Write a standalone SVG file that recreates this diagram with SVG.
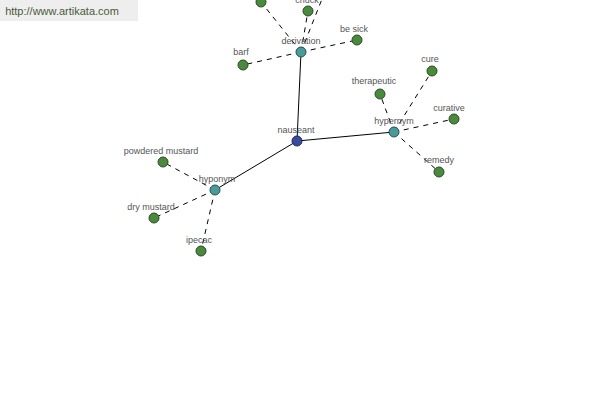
<svg xmlns="http://www.w3.org/2000/svg" width="600" height="400" viewBox="0 0 600 400">
<style>
.solid{stroke:#000;stroke-width:1;fill:none}
.dash{stroke:#000;stroke-width:1;fill:none;stroke-dasharray:5,5}
.leaf{fill:#4a8a3c;stroke:#2d4a25;stroke-width:1}
.hub{fill:#4a9a9a;stroke:#2a5050;stroke-width:1}
.root{fill:#3a4a9c;stroke:#20285a;stroke-width:1}
text{font-family:"Liberation Sans",Arial,sans-serif;font-size:9px;fill:#555;text-anchor:middle}
</style>
<rect x="0" y="0" width="138" height="21" fill="#eeeeee"/>
<text x="62" y="15" style="font-size:11px;fill:#4a5a3a">http://www.artikata.com</text>
<g id="connectors">
<line class="solid" x1="297" y1="141" x2="301" y2="52"/>
<line class="solid" x1="297" y1="141" x2="394" y2="132"/>
<line class="solid" x1="297" y1="141" x2="215" y2="190"/>
<line class="dash" x1="301" y1="52" x2="243" y2="65"/>
<line class="dash" x1="301" y1="52" x2="357" y2="40"/>
<line class="dash" x1="301" y1="52" x2="308" y2="11"/>
<line class="dash" x1="301" y1="52" x2="261" y2="2"/>
<line class="dash" x1="301" y1="52" x2="324" y2="-6"/>
<line class="dash" x1="394" y1="132" x2="380" y2="94"/>
<line class="dash" x1="394" y1="132" x2="432" y2="71"/>
<line class="dash" x1="394" y1="132" x2="454" y2="119"/>
<line class="dash" x1="394" y1="132" x2="439" y2="172"/>
<line class="dash" x1="215" y1="190" x2="163" y2="162"/>
<line class="dash" x1="215" y1="190" x2="154" y2="218"/>
<line class="dash" x1="215" y1="190" x2="201" y2="251"/>
</g>
<g id="n-nauseant"><circle class="root" cx="297" cy="141" r="5"/><text x="296" y="133">nauseant</text></g>
<g id="n-derivation"><circle class="hub" cx="301" cy="52" r="5"/><text x="301" y="44">derivation</text></g>
<g id="n-hypernym"><circle class="hub" cx="394" cy="132" r="5"/><text x="394" y="124">hypernym</text></g>
<g id="n-hyponym"><circle class="hub" cx="215" cy="190" r="5"/><text x="217" y="182">hyponym</text></g>
<g id="n-barf"><circle class="leaf" cx="243" cy="65" r="5"/><text x="241" y="55">barf</text></g>
<g id="n-besick"><circle class="leaf" cx="357" cy="40" r="5"/><text x="354" y="32">be sick</text></g>
<g id="n-chuck"><circle class="leaf" cx="308" cy="11" r="5"/><text x="307" y="3">chuck</text></g>
<g id="n-top"><circle class="leaf" cx="261" cy="2" r="5"/></g>
<g id="n-therapeutic"><circle class="leaf" cx="380" cy="94" r="5"/><text x="374" y="84">therapeutic</text></g>
<g id="n-cure"><circle class="leaf" cx="432" cy="71" r="5"/><text x="430" y="62">cure</text></g>
<g id="n-curative"><circle class="leaf" cx="454" cy="119" r="5"/><text x="449" y="111">curative</text></g>
<g id="n-remedy"><circle class="leaf" cx="439" cy="172" r="5"/><text x="439" y="163">remedy</text></g>
<g id="n-powdered"><circle class="leaf" cx="163" cy="162" r="5"/><text x="161" y="154">powdered mustard</text></g>
<g id="n-dry"><circle class="leaf" cx="154" cy="218" r="5"/><text x="151" y="210">dry mustard</text></g>
<g id="n-ipecac"><circle class="leaf" cx="201" cy="251" r="5"/><text x="199" y="243">ipecac</text></g>
</svg>
